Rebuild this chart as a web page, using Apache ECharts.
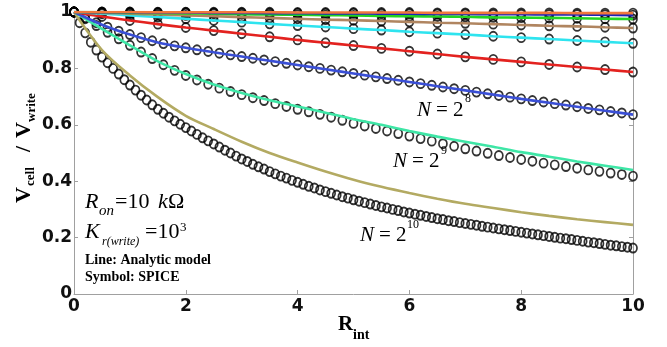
<!DOCTYPE html>
<html>
<head>
<meta charset="utf-8">
<script src="https://cdn.jsdelivr.net/npm/echarts@6/dist/echarts.min.js"></script>
<style>
html,body{margin:0;padding:0;background:#fff;}
#chart{width:667px;height:347px;}
</style>
</head>
<body>
<div id="chart"></div>
<script>
// ---------- data ----------
var xHalf = [0,0.5,1,1.5,2,2.5,3,3.5,4,4.5,5,5.5,6,6.5,7,7.5,8,8.5,9,9.5,10];
var xFifth = [0,0.2,0.4,0.6,0.8,1,1.2,1.4,1.6,1.8,2,2.2,2.4,2.6,2.8,3,3.2,3.4,3.6,3.8,4,4.2,4.4,4.6,4.8,5,5.2,5.4,5.6,5.8,6,6.2,6.4,6.6,6.8,7,7.2,7.4,7.6,7.8,8,8.2,8.4,8.6,8.8,9,9.2,9.4,9.6,9.8,10];
var xTenth = [0,0.1,0.2,0.3,0.4,0.5,0.6,0.7,0.8,0.9,1,1.1,1.2,1.3,1.4,1.5,1.6,1.7,1.8,1.9,2,2.1,2.2,2.3,2.4,2.5,2.6,2.7,2.8,2.9,3,3.1,3.2,3.3,3.4,3.5,3.6,3.7,3.8,3.9,4,4.1,4.2,4.3,4.4,4.5,4.6,4.7,4.8,4.9,5,5.1,5.2,5.3,5.4,5.5,5.6,5.7,5.8,5.9,6,6.1,6.2,6.3,6.4,6.5,6.6,6.7,6.8,6.9,7,7.1,7.2,7.3,7.4,7.5,7.6,7.7,7.8,7.9,8,8.1,8.2,8.3,8.4,8.5,8.6,8.7,8.8,8.9,9,9.1,9.2,9.3,9.4,9.5,9.6,9.7,9.8,9.9,10];

// Analytic model lines (x = xHalf)
var lineN1024 = [1,0.865,0.775,0.698,0.632,0.585,0.54,0.5,0.466,0.434,0.405,0.38,0.358,0.338,0.32,0.305,0.29,0.277,0.265,0.255,0.245];
var lineN512  = [1,0.94,0.882,0.825,0.78,0.743,0.713,0.687,0.665,0.643,0.62,0.6,0.578,0.558,0.54,0.522,0.503,0.487,0.47,0.455,0.44];
var lineN256  = [1,0.955,0.92,0.892,0.873,0.857,0.842,0.827,0.812,0.797,0.782,0.767,0.752,0.737,0.722,0.707,0.692,0.678,0.664,0.65,0.636];
var lineN128  = [1,0.984,0.97,0.957,0.945,0.934,0.923,0.912,0.901,0.891,0.881,0.871,0.861,0.851,0.841,0.832,0.823,0.814,0.805,0.796,0.787];
var lineN64   = [1,0.994,0.988,0.982,0.976,0.97,0.964,0.958,0.952,0.947,0.941,0.936,0.93,0.925,0.92,0.914,0.909,0.904,0.899,0.894,0.889];
var lineN32   = [1,0.997,0.994,0.991,0.988,0.985,0.982,0.979,0.976,0.973,0.971,0.968,0.965,0.962,0.96,0.957,0.954,0.951,0.949,0.946,0.943];
var lineN16   = [1,0.999,0.997,0.996,0.995,0.994,0.992,0.991,0.99,0.989,0.988,0.986,0.985,0.984,0.983,0.981,0.98,0.979,0.978,0.976,0.975];
var lineN8    = [1,0.999,0.999,0.998,0.998,0.997,0.997,0.996,0.996,0.995,0.995,0.994,0.994,0.993,0.993,0.992,0.992,0.991,0.991,0.99,0.989];
var lineN4    = [1,1,1,0.999,0.999,0.999,0.999,0.999,0.998,0.998,0.998,0.998,0.998,0.997,0.997,0.997,0.997,0.997,0.996,0.996,0.996];

// SPICE symbols
var spiceN1024 = [1.0,0.962,0.926,0.893,0.865,0.84,0.82,0.80,0.78,0.76,0.741,0.723,0.705,0.688,0.671,0.655,0.641,0.627,0.614,0.602,0.59,0.578,0.566,0.554,0.543,0.532,0.521,0.51,0.5,0.489,0.479,0.47,0.46,0.451,0.443,0.434,0.426,0.418,0.411,0.403,0.396,0.389,0.382,0.376,0.369,0.363,0.357,0.351,0.345,0.34,0.334,0.329,0.324,0.319,0.314,0.309,0.305,0.3,0.296,0.291,0.287,0.283,0.279,0.275,0.271,0.267,0.264,0.26,0.257,0.253,0.25,0.247,0.244,0.24,0.237,0.234,0.231,0.228,0.225,0.222,0.219,0.216,0.213,0.21,0.207,0.204,0.201,0.198,0.196,0.193,0.19,0.187,0.184,0.182,0.179,0.176,0.173,0.171,0.168,0.166,0.163]; // x = xTenth
var spiceN512 = [1,0.976,0.952,0.928,0.905,0.882,0.858,0.835,0.813,0.793,0.775,0.759,0.744,0.73,0.718,0.707,0.696,0.686,0.675,0.665,0.655,0.646,0.637,0.627,0.616,0.605,0.596,0.587,0.578,0.569,0.56,0.551,0.542,0.533,0.524,0.515,0.507,0.499,0.491,0.484,0.477,0.471,0.464,0.458,0.452,0.446,0.44,0.435,0.429,0.424,0.418]; // x = xFifth
var spiceN256 = [1,0.98,0.962,0.946,0.932,0.92,0.909,0.898,0.888,0.88,0.873,0.866,0.86,0.854,0.848,0.842,0.836,0.83,0.824,0.818,0.812,0.806,0.8,0.794,0.788,0.782,0.776,0.77,0.764,0.758,0.752,0.746,0.74,0.734,0.728,0.722,0.716,0.71,0.704,0.698,0.692,0.686,0.681,0.675,0.67,0.664,0.658,0.653,0.647,0.642,0.636]; // x = xFifth
var spiceN128 = [1,0.984,0.97,0.957,0.945,0.934,0.923,0.912,0.901,0.891,0.881,0.871,0.861,0.851,0.841,0.832,0.823,0.814,0.805,0.796,0.787]; // x = xHalf
var spiceN64  = [1,0.994,0.988,0.982,0.976,0.97,0.964,0.958,0.952,0.947,0.941,0.936,0.93,0.925,0.92,0.914,0.909,0.904,0.899,0.894,0.889];
var spiceN32  = [1,0.997,0.994,0.991,0.988,0.985,0.982,0.979,0.976,0.973,0.971,0.968,0.965,0.962,0.96,0.957,0.954,0.951,0.949,0.946,0.943];
var spiceN16  = [1,0.999,0.997,0.996,0.995,0.994,0.992,0.991,0.99,0.989,0.988,0.986,0.985,0.984,0.983,0.981,0.98,0.979,0.978,0.976,0.975];
var spiceN8   = [1,0.999,0.999,0.998,0.998,0.997,0.997,0.996,0.996,0.995,0.995,0.994,0.994,0.993,0.993,0.992,0.992,0.991,0.991,0.99,0.989];
var spiceN4   = [1,1,1,0.999,0.999,0.999,0.999,0.999,0.998,0.998,0.998,0.998,0.998,0.997,0.997,0.997,0.997,0.997,0.996,0.996,0.996];

var xTicks = [0, 2, 4, 6, 8, 10];
var yTicks = [0, 0.2, 0.4, 0.6, 0.8, 1];

// ---------- chart ----------
function zip(xs, ys){ return ys.map(function(v,i){ return [xs[i], v]; }); }

var chart = echarts.init(document.getElementById('chart'), null, {renderer:'canvas'});

var lineDefs = [
  {name:'N=2^10', data:lineN1024, color:'#b3aa62'},
  {name:'N=2^9',  data:lineN512,  color:'#3ee6a6'},
  {name:'N=2^8',  data:lineN256,  color:'#3a4fd6'},
  {name:'N=2^7',  data:lineN128,  color:'#e3221f'},
  {name:'N=2^6',  data:lineN64,   color:'#2ee4ef'},
  {name:'N=2^5',  data:lineN32,   color:'#b08560'},
  {name:'N=2^4',  data:lineN16,   color:'#22d422'},
  {name:'N=2^3',  data:lineN8,    color:'#1a24b8'},
  {name:'N=2^2',  data:lineN4,    color:'#f0783c'}
];
var spiceDefs = [
  {xs:xTenth, ys:spiceN1024},
  {xs:xFifth, ys:spiceN512},
  {xs:xFifth, ys:spiceN256},
  {xs:xHalf,  ys:spiceN128},
  {xs:xHalf,  ys:spiceN64},
  {xs:xHalf,  ys:spiceN32},
  {xs:xHalf,  ys:spiceN16},
  {xs:xHalf,  ys:spiceN8},
  {xs:xHalf,  ys:spiceN4}
];

var series = [];
spiceDefs.forEach(function(d, i){
  series.push({
    type:'scatter', name:'SPICE '+lineDefs[i].name, data: zip(d.xs, d.ys),
    symbol:'circle', symbolSize:[8,9], z:2, silent:true,
    itemStyle:{color:'rgba(0,0,0,0)', borderColor:'#000', borderWidth:1.8}
  });
});
lineDefs.forEach(function(d){
  series.push({
    type:'line', name:d.name, data: zip(xHalf, d.data), smooth:0.3,
    showSymbol:false, z:3, silent:true,
    lineStyle:{color:d.color, width:2.6}
  });
});

var axisGray = '#a0a0a0';
var tickFont = {fontFamily:'DejaVu Sans', fontWeight:'bold', fontSize:17, color:'#111'};

function T(x, y, text, font){
  var st = {text:text, font:font, fill:'#000', align:'left', verticalAlign:'top', textAlign:'left', textVerticalAlign:'top'};
  return {type:'text', x:x, y:y, silent:true, z:10, style:st};
}
var serifIt = "italic 22px 'Liberation Serif'";
var serif22 = "22px 'Liberation Serif'";

var graphics = [
  // y axis name
  {type:'group', x:32, y:203, rotation:Math.PI/2, children:[
    T(0, -18.5, 'V', "bold 22px 'Liberation Serif'"),
    T(17, -7.5, 'cell', "bold 13px 'Liberation Serif'"),
    T(51, -18.5, '/', "bold 22px 'Liberation Serif'"),
    T(65, -18.5, 'V', "bold 22px 'Liberation Serif'"),
    T(81, -6.5, 'write', "bold 13px 'Liberation Serif'")
  ]},
  // x axis name
  T(338, 314.5, 'R', "bold 21px 'Liberation Serif'"),
  T(353, 328.5, 'int', "bold 14px 'Liberation Serif'"),
  // annotations
  T(85, 191.5, 'R', serifIt),
  T(99, 203.5, 'on', "italic 15px 'Liberation Serif'"),
  T(115, 191.5, '=10', serif22),
  T(158, 191.5, 'k', serifIt),
  T(168, 191.5, 'Ω', serif22),
  T(85, 221.5, 'K', serifIt),
  T(102, 236, 'r(write)', "italic 12px 'Liberation Serif'"),
  T(145, 221.5, '=10', serif22),
  T(180, 221, '3', "13px 'Liberation Serif'"),
  T(85, 253.5, 'Line: Analytic model', "bold 14px 'Liberation Serif'"),
  T(85, 270.5, 'Symbol: SPICE', "bold 14px 'Liberation Serif'"),
  // N labels
  T(417, 99.5, 'N', "italic 21px 'Liberation Serif'"),
  T(436, 99.5, '= 2', "21px 'Liberation Serif'"),
  T(465, 93, '8', "12px 'Liberation Serif'"),
  T(393, 150.5, 'N', "italic 21px 'Liberation Serif'"),
  T(412, 150.5, '= 2', "21px 'Liberation Serif'"),
  T(441, 145, '9', "12px 'Liberation Serif'"),
  T(360, 224.5, 'N', "italic 21px 'Liberation Serif'"),
  T(379, 224.5, '= 2', "21px 'Liberation Serif'"),
  T(407, 219, '10', "12px 'Liberation Serif'")
];

chart.setOption({
  animation:false,
  backgroundColor:'#fff',
  grid:{left:74, right:34, top:12, bottom:53, containLabel:false},
  xAxis:{
    type:'value', min:xTicks[0], max:xTicks[xTicks.length-1], interval:xTicks[1]-xTicks[0],
    axisLine:{show:true, onZero:false, lineStyle:{color:axisGray, width:1}},
    axisTick:{show:true, inside:true, length:4, lineStyle:{color:axisGray}},
    axisLabel:Object.assign({margin:4}, tickFont),
    splitLine:{show:false}
  },
  yAxis:[{
    type:'value', min:yTicks[0], max:yTicks[yTicks.length-1], interval:yTicks[1]-yTicks[0],
    axisLine:{show:true, onZero:false, lineStyle:{color:axisGray, width:1}},
    axisTick:{show:true, inside:true, length:4, lineStyle:{color:axisGray}},
    axisLabel:Object.assign({margin:2}, tickFont),
    splitLine:{show:false}
  },{
    type:'value', position:'right', min:yTicks[0], max:yTicks[yTicks.length-1], interval:yTicks[1]-yTicks[0],
    axisLine:{show:true, onZero:false, lineStyle:{color:axisGray, width:1}},
    axisTick:{show:true, inside:true, length:4, lineStyle:{color:axisGray}},
    axisLabel:{show:false},
    splitLine:{show:false}
  }],
  series:series,
  graphic:graphics
});
</script>
</body>
</html>
